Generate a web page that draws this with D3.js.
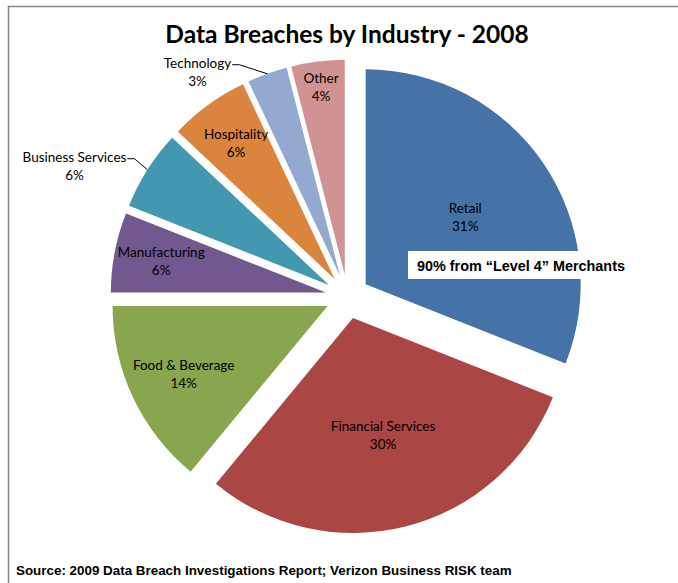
<!DOCTYPE html>
<html><head><meta charset="utf-8">
<script src="https://cdn.jsdelivr.net/npm/d3@7"></script>
<style>body{margin:0;background:#fff} svg{display:block}</style>
</head><body>
<svg id="chart" width="678" height="583"></svg>
<script>
const categories = ["Retail","Financial Services","Food & Beverage","Manufacturing","Business Services","Hospitality","Technology","Other"];
const values = [31,30,14,6,6,6,3,4];
const colors = ["#4572A7","#AA4643","#89A54E","#71588F","#4198AF","#DB843D","#93A9CF","#D19392"];
const outsideLabels = ["Business Services","Technology"];
const titleText = "Data Breaches by Industry - 2008";
const noteText = "90% from \u201cLevel 4\u201d Merchants";
const sourceText = "Source: 2009 Data Breach Investigations Report; Verizon Business RISK team";

const W = 678, H = 583;
const svg = d3.select("#chart");
const cx = 347.5, cy = 296.7, R = 215, explode = 22;
const labelFont = "Lato, 'Noto Sans', sans-serif";
const labelSize = 13.5;
// leader elbow offsets (label callouts dragged outside the slices)
const leaderOffsets = {"Business Services":[-13,-11], "Technology":[-28,-9]};

// frame (top and left edges visible)
svg.append("line").attr("x1",8).attr("y1",6.5).attr("x2",W).attr("y2",6.5).attr("stroke","#868686").attr("stroke-width",1.5);
svg.append("line").attr("x1",8.5).attr("y1",6).attr("x2",8.5).attr("y2",H).attr("stroke","#868686").attr("stroke-width",1.5);

svg.append("text").attr("x",347).attr("y",43).attr("text-anchor","middle")
  .attr("font-family",labelFont).attr("font-weight","bold").attr("font-size",24.5)
  .attr("fill","#000").text(titleText);

const data = categories.map((c,i)=>({name:c,value:values[i],color:colors[i]}));
const pie = d3.pie().sort(null).value(d=>d.value);
const arcs = pie(data);
const arc = d3.arc().innerRadius(0).outerRadius(R);
const radiusFrac = d3.scaleLinear().domain([0.25, 0.377, 0.88, 1.9]).range([0.88, 0.78, 0.74, 0.56]).clamp(true);

const g = svg.append("g").attr("transform",`translate(${cx},${cy})`);
const slices = g.selectAll("g.slice").data(arcs).join("g").attr("class","slice")
  .attr("transform", d=>{
    const m=(d.startAngle+d.endAngle)/2;
    return `translate(${explode*Math.sin(m)},${-explode*Math.cos(m)})`;
  });
slices.append("path").attr("d",arc).attr("fill",d=>d.data.color);

const total = d3.sum(values);
slices.each(function(d){
  const sel = d3.select(this);
  const m=(d.startAngle+d.endAngle)/2;
  const pct = Math.round(d.data.value/total*100)+"%";
  if (outsideLabels.includes(d.data.name)) {
    const off = leaderOffsets[d.data.name];
    const p0=[R*Math.sin(m), -R*Math.cos(m)];
    const p1=[p0[0]+off[0], p0[1]+off[1]];
    const p2=[p1[0]-7, p1[1]];
    sel.append("polyline").attr("points",[p0,p1,p2].map(p=>p.join(",")).join(" "))
      .attr("fill","none").attr("stroke","#000").attr("stroke-width",1);
    const x2 = p2[0]-1;
    const t = sel.append("text").attr("font-family",labelFont).attr("font-size",labelSize).attr("fill","#000")
      .attr("x",x2).attr("y",p2[1]+3).attr("text-anchor","end").text(d.data.name);
    const wLine = t.node().getComputedTextLength();
    sel.append("text").attr("font-family",labelFont).attr("font-size",labelSize).attr("fill","#000")
      .attr("x",x2-wLine/2).attr("y",p2[1]+21).attr("text-anchor","middle").text(pct);
  } else {
    const rho = R*radiusFrac(d.endAngle-d.startAngle);
    const x = rho*Math.sin(m), y = -rho*Math.cos(m);
    const t = sel.append("text").attr("font-family",labelFont).attr("font-size",labelSize)
      .attr("fill","#000").attr("text-anchor","middle");
    t.append("tspan").attr("x",x).attr("y",y-4).text(d.data.name);
    t.append("tspan").attr("x",x).attr("y",y+14).text(pct);
  }
});

// annotation box
svg.append("rect").attr("x",408).attr("y",251).attr("width",226).attr("height",28).attr("fill","#fff");
svg.append("text").attr("x",417).attr("y",271).attr("font-family","'Liberation Sans', Arial, sans-serif")
  .attr("font-weight","bold").attr("font-size",14.4).attr("fill","#000").text(noteText);

svg.append("text").attr("x",16).attr("y",575).attr("font-family","'Liberation Sans', Arial, sans-serif")
  .attr("font-weight","bold").attr("font-size",13.4).attr("fill","#000").text(sourceText);
</script>
</body></html>
